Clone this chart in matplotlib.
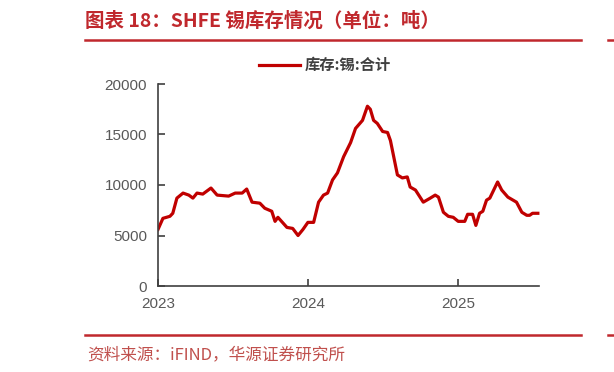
import matplotlib
matplotlib.use('Agg')
from matplotlib import pyplot as plt
import matplotlib.dates as mdates
import pandas as pd

plt.rcParams['font.family'] = ['Liberation Sans', 'Noto Sans CJK SC', 'DejaVu Sans']

# SHFE tin inventory, tonnes
dates = ['2023-01-01', '2023-01-13', '2023-01-30', '2023-02-06', '2023-02-16',
         '2023-03-03', '2023-03-17', '2023-03-27', '2023-04-06', '2023-04-20',
         '2023-05-10', '2023-05-25', '2023-06-22', '2023-07-08', '2023-07-25',
         '2023-08-05', '2023-08-18', '2023-09-06', '2023-09-18', '2023-10-05',
         '2023-10-13', '2023-10-20', '2023-11-11', '2023-11-25', '2023-12-08',
         '2023-12-20', '2024-01-01', '2024-01-15', '2024-01-27', '2024-02-08',
         '2024-02-18', '2024-03-01', '2024-03-13', '2024-03-28', '2024-04-14',
         '2024-04-26', '2024-05-13', '2024-05-25', '2024-06-01', '2024-06-09',
         '2024-06-18', '2024-07-01', '2024-07-13', '2024-07-20', '2024-08-06',
         '2024-08-18', '2024-08-30', '2024-09-06', '2024-09-19', '2024-10-08',
         '2024-10-25', '2024-11-06', '2024-11-14', '2024-11-26', '2024-12-08',
         '2024-12-20', '2025-01-01', '2025-01-17', '2025-01-24', '2025-02-05',
         '2025-02-13', '2025-02-22', '2025-03-02', '2025-03-11', '2025-03-19',
         '2025-04-07', '2025-04-17', '2025-05-02', '2025-05-23', '2025-06-05',
         '2025-06-17', '2025-06-24', '2025-07-01', '2025-07-14']
stock = [5600, 6700, 6900, 7200, 8700,
         9200, 9000, 8700, 9200, 9100,
         9700, 9000, 8900, 9200, 9200,
         9600, 8300, 8200, 7700, 7400,
         6400, 6800, 5800, 5700, 5000,
         5600, 6300, 6300, 8300, 9000,
         9200, 10500, 11200, 12800, 14200,
         15600, 16400, 17800, 17500, 16400,
         16100, 15300, 15200, 14400, 11000,
         10700, 10800, 9800, 9500, 8300,
         8700, 9000, 8800, 7300, 6900,
         6800, 6400, 6400, 7100, 7100,
         6000, 7200, 7400, 8500, 8700,
         10300, 9500, 8800, 8300, 7300,
         7000, 7000, 7200, 7200]
series_name = '库存:锡:合计'
title = '图表 18：SHFE 锡库存情况（单位：吨）'
source = '资料来源：iFIND，华源证券研究所'

W, H = 614, 372
fig = plt.figure(figsize=(W / 100, H / 100), dpi=100)
ax = fig.add_axes([158 / W, 1 - 286 / H, (539.5 - 158) / W, (286 - 84) / H])

x = pd.to_datetime(dates)
ax.plot(x, stock, color='#C00000', lw=2.3, label=series_name)

ax.set_ylim(0, 20000)
ax.set_yticks([0, 5000, 10000, 15000, 20000])
ax.set_xlim(pd.Timestamp('2023-01-01'), pd.Timestamp('2025-07-18'))
ax.xaxis.set_major_locator(mdates.YearLocator())
ax.xaxis.set_major_formatter(mdates.DateFormatter('%Y'))

for s in ['top', 'right']:
    ax.spines[s].set_visible(False)
for s in ['left', 'bottom']:
    ax.spines[s].set_color('#404040')
    ax.spines[s].set_linewidth(1.2)
ax.tick_params(direction='in', length=5, width=1.2, color='#404040',
               labelsize=11, labelcolor='#595959', pad=8)

leg = ax.legend(loc='center', bbox_to_anchor=(325 / W, 1 - 65 / H),
                bbox_transform=fig.transFigure, frameon=False,
                handlelength=2.7, handletextpad=0.35,
                prop={'family': ['Noto Sans CJK SC'], 'weight': 'bold', 'size': 11})
for t in leg.get_texts():
    t.set_color('#404040')

# header and footer
red = '#C0282D'
fig.text(85 / W, 1 - 21 / H, title, color=red, fontsize=14, weight='bold',
         family=['Noto Sans CJK SC'], va='center', ha='left')
fig.add_artist(plt.Line2D([85 / W, 581 / W], [1 - 40 / H] * 2, color=red, lw=1.8))
fig.add_artist(plt.Line2D([608 / W, 614 / W], [1 - 40 / H] * 2, color=red, lw=1.8))
fig.add_artist(plt.Line2D([85 / W, 581 / W], [1 - 334.5 / H] * 2, color=red, lw=1.8))
fig.add_artist(plt.Line2D([608 / W, 614 / W], [1 - 334.5 / H] * 2, color=red, lw=1.8))
fig.text(87 / W, 1 - 355 / H, source, color='#C0504D', fontsize=12,
         family=['Noto Sans CJK SC'], va='center', ha='left')

fig.savefig('out.png', dpi=100)
